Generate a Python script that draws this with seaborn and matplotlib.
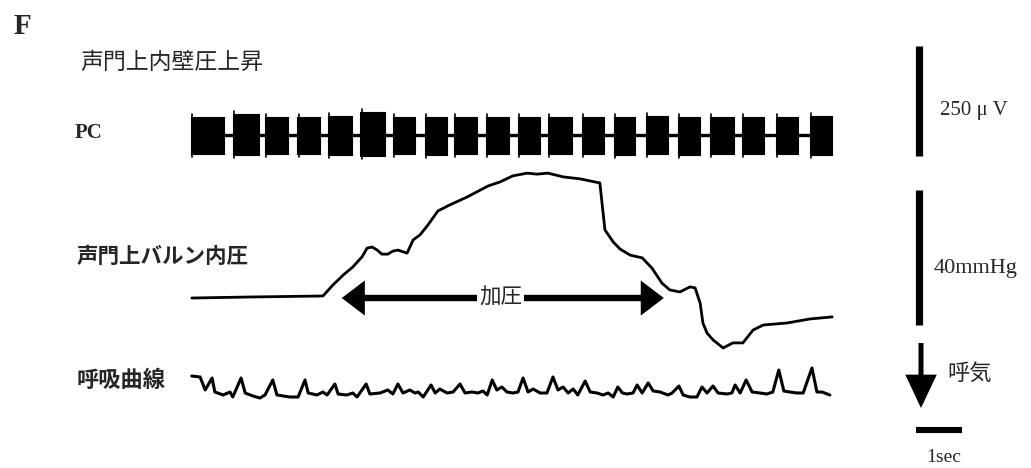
import numpy as np
import pandas as pd
import matplotlib
matplotlib.use("Agg")
import matplotlib.pyplot as plt
import seaborn as sns

# ---------------------------------------------------------------- data
# PC (posterior cricoarytenoid) EMG bursts: onset / offset [s], envelope [uV]
pc_burst_on_s = [0.02, 0.93, 1.63, 2.33, 3.00, 3.70, 4.41, 5.11, 5.74, 6.43,
                 7.13, 7.78, 8.52, 9.22, 9.91, 10.61, 11.30, 12.00, 12.74, 13.48]
pc_burst_off_s = [0.74, 1.50, 2.13, 2.83, 3.52, 4.24, 4.89, 5.59, 6.24, 6.93,
                  7.61, 8.30, 9.00, 9.67, 10.39, 11.09, 11.83, 12.48, 13.22, 13.96]
pc_burst_top_uv = [42, 48, 42, 42, 44, 52, 42, 42, 42, 42,
                   42, 42, 42, 42, 44, 42, 42, 42, 42, 44]
pc_burst_bottom_uv = [-44, -46, -44, -44, -46, -48, -44, -46, -44, -44,
                      -44, -44, -44, -46, -44, -46, -44, -44, -44, -46]
pc_trace_start_s = 0.02
pc_trace_end_s = 13.96

# supraglottic balloon pressure [s], [mmHg]
balloon_t = [0.04, 1.30, 2.89, 3.11, 3.33, 3.54, 3.74, 3.85, 3.96, 4.07, 4.17,
             4.30, 4.41, 4.52, 4.72, 4.85, 5.00, 5.17, 5.39, 5.65, 6.02, 6.48,
             6.74, 7.02, 7.33, 7.54, 7.78, 8.11, 8.48, 8.80, 8.91, 9.02, 9.20,
             9.35, 9.57, 9.83, 10.04, 10.26, 10.43, 10.65, 10.87, 10.98, 11.09,
             11.15, 11.24, 11.37, 11.59, 11.80, 12.02, 12.24, 12.46, 12.98,
             13.48, 13.96]
balloon_mmhg = [-0.3, 0.0, 0.3, 3.6, 6.5, 8.9, 11.9, 14.5, 14.8, 13.9, 12.7,
                12.7, 13.6, 13.9, 13.0, 16.9, 18.4, 21.3, 25.5, 27.3, 29.6, 32.9,
                34.1, 35.9, 36.7, 36.4, 36.7, 35.6, 35.0, 34.1, 33.8, 19.9, 16.3,
                14.2, 12.4, 11.6, 8.6, 4.1, 2.1, 1.5, 3.0, 2.7, -1.8,
                -7.7, -10.7, -12.7, -15.1, -13.6, -13.6, -9.8, -8.3, -7.7,
                -6.5, -5.9]

# respiration curve [s], [a.u.]  (expiration downward)
resp_t = [0.04, 0.22, 0.33, 0.48, 0.54, 0.72, 0.87, 0.93, 1.11, 1.20, 1.37,
          1.52, 1.63, 1.80, 1.89, 2.17, 2.35, 2.50, 2.57, 2.76, 2.89, 2.98,
          3.15, 3.22, 3.41, 3.54, 3.63, 3.83, 3.91, 4.13, 4.30, 4.41, 4.52,
          4.63, 4.78, 4.89, 4.96, 5.07, 5.24, 5.33, 5.43, 5.59, 5.72, 5.87,
          5.98, 6.13, 6.26, 6.37, 6.46, 6.57, 6.67, 6.78, 6.89, 7.02, 7.13,
          7.24, 7.35, 7.46, 7.61, 7.76, 7.89, 8.00, 8.11, 8.22, 8.33, 8.43,
          8.59, 8.70, 8.85, 8.98, 9.09, 9.20, 9.30, 9.40, 9.50, 9.63, 9.72,
          9.83, 9.96, 10.07, 10.22, 10.39, 10.48, 10.63, 10.72, 10.87, 11.02,
          11.13, 11.24, 11.37, 11.48, 11.67, 11.78, 11.85, 11.96, 12.09,
          12.22, 12.39, 12.54, 12.67, 12.80, 12.91, 13.04, 13.20, 13.33,
          13.52, 13.63, 13.74, 13.91]
resp_au = [17, 16, 3, 15, 1, -2, 1, -4, 15, 0, -3,
           -5, -2, 13, -2, -4, -4, 13, 0, -2, 1, -2,
           9, -1, -2, 0, -4, 9, -1, 0, 3, -1, 9,
           0, 3, 0, 1, -4, 8, 0, 4, 0, 1, 9,
           0, 1, 0, 2, -2, 13, 3, 6, 1, 0, 1,
           15, 1, 4, 0, 0, 16, 3, 6, 0, 4, -2,
           12, 1, 0, -2, 0, -4, 6, 0, -1, 0, 8,
           0, 10, 2, 1, -2, 0, 7, -2, -4, -4,
           6, 0, 7, 0, -1, 0, 8, 0, 13,
           1, 0, -1, 1, 23, 2, 1, 0, 0,
           25, 1, 1, -2]

# calibration bars
pc_scale_uv = 250
pressure_scale_mmhg = 40
time_scale_s = 1
pressurization_s = (3.30, 10.30)

# ---------------------------------------------------------------- layout
W, H = 1031, 468
X0_PX, PX_PER_S = 190, 46.0          # time origin and time scale on canvas
XLIM = (-X0_PX / PX_PER_S, (W - X0_PX) / PX_PER_S)


def ylim_for(zero_row, px_per_unit):
    return ((zero_row - H) / px_per_unit, zero_row / px_per_unit)


def fx(px):
    return px / W


def fy(py):
    return 1 - py / H


sns.set_theme(style="white")
plt.rcParams["font.family"] = ["Noto Sans CJK JP", "DejaVu Sans"]
SERIF = ["Liberation Serif", "DejaVu Serif"]
JP = ["Noto Sans CJK JP", "DejaVu Sans"]

fig = plt.figure(figsize=(W / 100, H / 100), dpi=100)
fig.patch.set_facecolor("white")


def overlay_axes(zero_row, px_per_unit):
    ax = fig.add_axes([0, 0, 1, 1])
    ax.set_xlim(*XLIM)
    ax.set_ylim(*ylim_for(zero_row, px_per_unit))
    ax.set_axis_off()
    ax.patch.set_alpha(0)
    return ax


ax_pc = overlay_axes(135, 0.44)          # uV
ax_bp = overlay_axes(297, 3.375)         # mmHg
ax_rs = overlay_axes(393, 1.0)           # a.u.

# ---------------------------------------------------------------- PC EMG
ax_pc.plot([pc_trace_start_s, pc_trace_end_s], [0, 0], color="black",
           lw=2.4, solid_capstyle="butt")
for on, off, top, bot in zip(pc_burst_on_s, pc_burst_off_s,
                             pc_burst_top_uv, pc_burst_bottom_uv):
    ax_pc.fill_between([on, off], [bot, bot], [top, top],
                       color="black", lw=0.8)
    # sharp spike at burst onset
    ax_pc.plot([on + 0.03, on + 0.03], [bot - 6, top + 6],
               color="black", lw=1.2)

# ---------------------------------------------------------------- balloon pressure
bp = pd.DataFrame({"t": balloon_t, "p": balloon_mmhg})
sns.lineplot(data=bp, x="t", y="p", ax=ax_bp, color="black", lw=2.0,
             sort=False, estimator=None)
ax_bp.set_axis_off()

# pressurization arrow with label
t0, t1 = pressurization_s
mid = (t0 + t1) / 2 - 0.05
arrow_kw = dict(arrowstyle="-|>,head_length=1.05,head_width=0.8",
                lw=4.6, color="black", shrinkA=0, shrinkB=0,
                mutation_scale=10, joinstyle="miter", capstyle="butt")
ax_bp.annotate("", xy=(t0, -0.3), xytext=(mid, -0.3), arrowprops=arrow_kw)
ax_bp.annotate("", xy=(t1, -0.3), xytext=(mid, -0.3), arrowprops=arrow_kw)
ax_bp.text(mid, -0.3, "加圧", family=JP, fontsize=15.5, ha="center",
           va="center", bbox=dict(facecolor="white", edgecolor="none",
                                  pad=1.5))

# ---------------------------------------------------------------- respiration
rs = pd.DataFrame({"t": resp_t, "v": resp_au})
sns.lineplot(data=rs, x="t", y="v", ax=ax_rs, color="black", lw=2.2,
             sort=False, estimator=None)
ax_rs.set_axis_off()

# ---------------------------------------------------------------- calibration bars
bar_t = (919.5 - X0_PX) / PX_PER_S
pc_bar_low = -48
ax_pc.plot([bar_t, bar_t], [pc_bar_low, pc_bar_low + pc_scale_uv],
           color="black", lw=5.2, solid_capstyle="butt")
bp_bar_low = -8.3
ax_bp.plot([bar_t, bar_t], [bp_bar_low, bp_bar_low + pressure_scale_mmhg],
           color="black", lw=5.2, solid_capstyle="butt")
tbar_start = (916 - X0_PX) / PX_PER_S
ax_rs.plot([tbar_start, tbar_start + time_scale_s], [-37, -37],
           color="black", lw=4.4, solid_capstyle="butt")
exp_t = (921 - X0_PX) / PX_PER_S
ax_rs.annotate("", xy=(exp_t, -15), xytext=(exp_t, 50),
               arrowprops=dict(arrowstyle="-|>,head_length=1.8,head_width=0.85",
                               lw=3.6, color="black", shrinkA=0, shrinkB=0,
                               mutation_scale=10, joinstyle="miter",
                               capstyle="butt"))

# ---------------------------------------------------------------- labels
fig.text(fx(14), fy(27), "F", family=SERIF, fontsize=21, weight="bold",
         ha="left", va="center")
fig.text(fx(80), fy(62), "声門上内壁圧上昇", family=JP, fontsize=16.5,
         ha="left", va="center")
fig.text(fx(75), fy(133), "PC", family=SERIF, fontsize=15, weight="bold",
         ha="left", va="center")
fig.text(fx(77), fy(256), "声門上バルン内圧", family=JP, fontsize=15.5,
         weight="bold", ha="left", va="center")
fig.text(fx(77), fy(380), "呼吸曲線", family=JP, fontsize=16, weight="bold",
         ha="left", va="center")
fig.text(fx(940), fy(111), "250 μ V", family=SERIF, fontsize=15, ha="left",
         va="center")
fig.text(fx(934), fy(268), "40mmHg", family=SERIF, fontsize=16, ha="left",
         va="center")
fig.text(fx(947), fy(373), "呼気", family=JP, fontsize=16, ha="left",
         va="center")
fig.text(fx(944), fy(457), "1sec", family=SERIF, fontsize=14, ha="center",
         va="center")

fig.savefig("out.png", dpi=100, facecolor="white")
